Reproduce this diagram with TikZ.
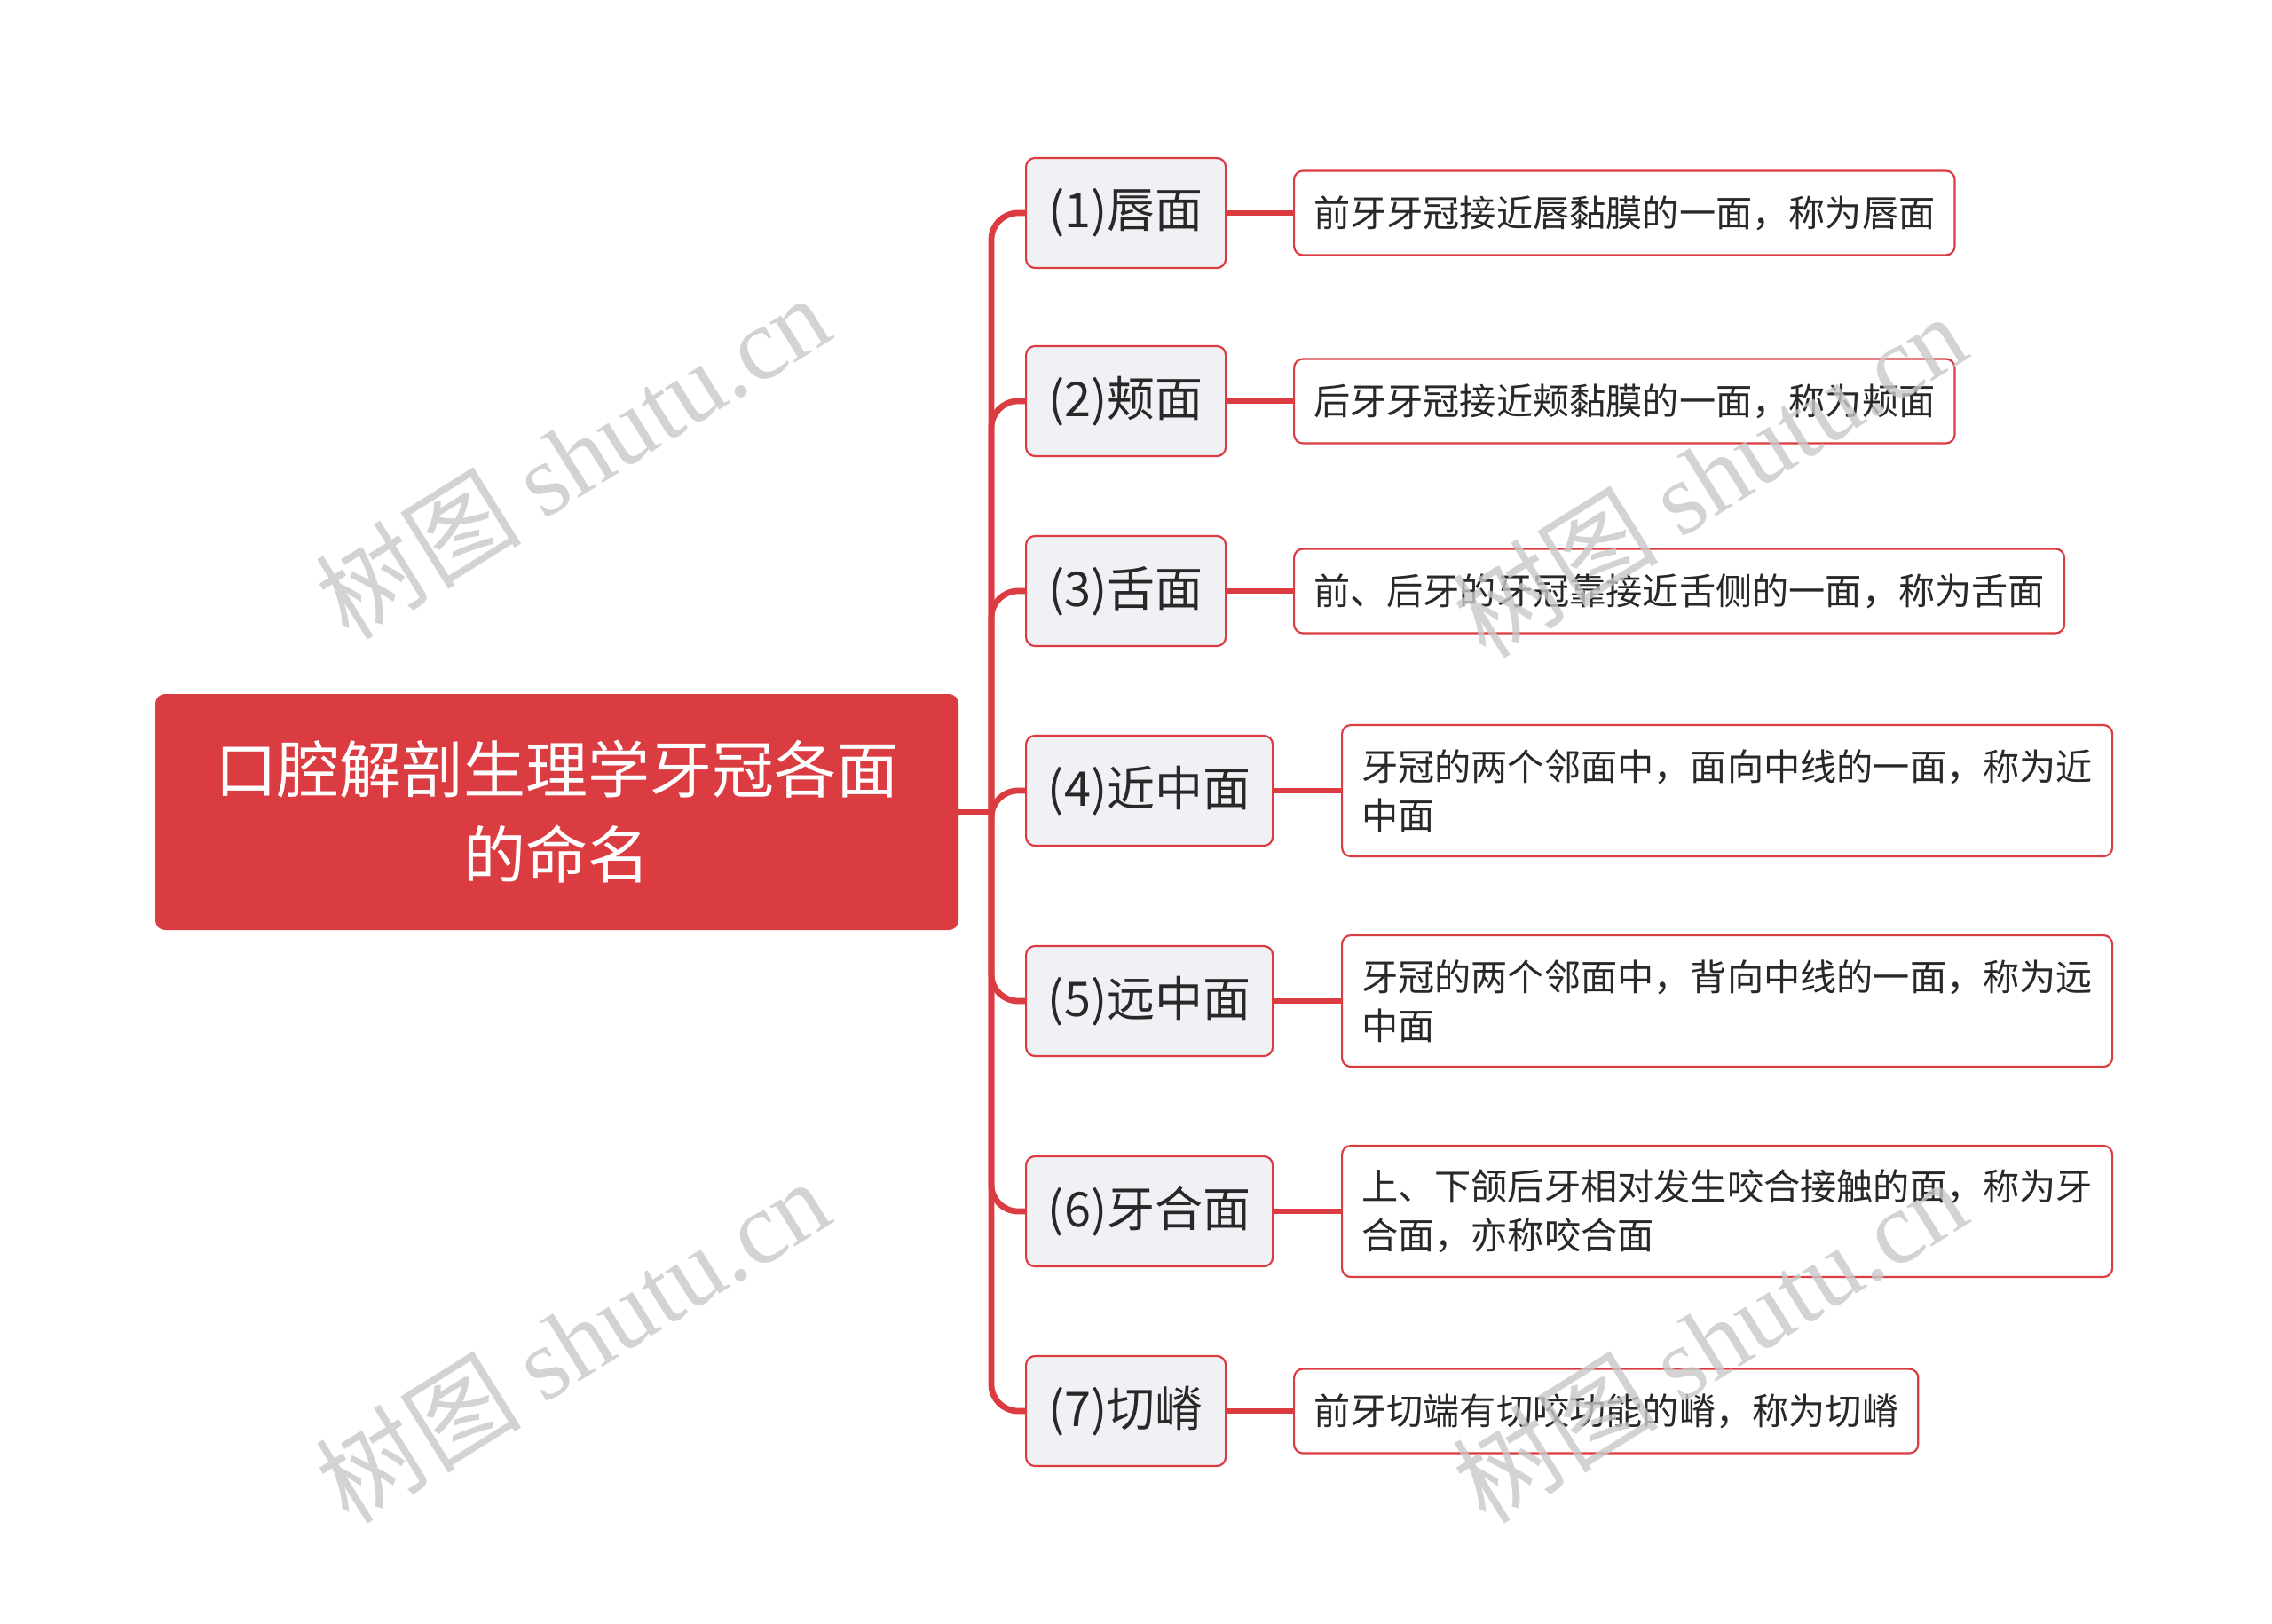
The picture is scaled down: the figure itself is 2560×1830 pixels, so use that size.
\documentclass[tikz,border=0pt]{standalone}
\usepackage{fontspec}
\setmainfont{Noto Sans CJK SC}
\newfontfamily\wmfont{Liberation Serif}
\definecolor{mred}{RGB}{218,60,66}
\definecolor{lvfill}{RGB}{239,241,244}
\definecolor{txt}{RGB}{40,40,40}
\definecolor{wm}{RGB}{200,200,200}
\begin{document}
\begin{tikzpicture}[x=0.5pt,y=-0.5pt,
  rootbox/.style={draw=mred,fill=mred,rounded corners=5pt,line width=1pt,text=white,
     minimum width=451.5pt,minimum height=132pt,align=center,
     font=\fontsize{35}{48}\selectfont},
  lvbox/.style={draw=mred,fill=lvfill,rounded corners=5pt,line width=1.1pt,text=txt,
     minimum height=62pt,anchor=west,inner xsep=0pt,font=\fontsize{27}{32}\selectfont},
  lvshort/.style={lvbox,minimum width=112.5pt},
  lvlong/.style={lvbox,minimum width=139pt},
  descbox/.style={draw=mred,fill=white,rounded corners=5pt,line width=1.1pt,text=txt,
     anchor=west,inner xsep=11pt,align=left,minimum height=47.5pt,
     font=\fontsize{20.6}{27.5}\selectfont},
  desctwo/.style={descbox,minimum height=74pt},
  link/.style={draw=mred,line width=3.4pt},
  wmark/.style={text=wm,rotate=32,opacity=0.8,font=\fontsize{58}{60}\selectfont}]
\useasboundingbox (0,0) rectangle (2560,1830);

\node[rootbox] (root) at (627.5,915) {口腔解剖生理学牙冠各面\\的命名};
\coordinate (j) at (1117,915);

\node[lvshort] (c1) at (1155,240) {(1)唇面};
\node[lvshort] (c2) at (1155,452) {(2)颊面};
\node[lvshort] (c3) at (1155,666) {(3)舌面};
\node[lvlong]  (c4) at (1155,891) {(4)近中面};
\node[lvlong]  (c5) at (1155,1128) {(5)远中面};
\node[lvlong]  (c6) at (1155,1365) {(6)牙合面};
\node[lvshort] (c7) at (1155,1590) {(7)切嵴};

\node[descbox] (d1) at (1457,240) {前牙牙冠接近唇黏膜的一面，称为唇面};
\node[descbox] (d2) at (1457,452) {后牙牙冠接近颊黏膜的一面，称为颊面};
\node[descbox] (d3) at (1457,666) {前、后牙的牙冠靠接近舌侧的一面，称为舌面};
\node[desctwo] (d4) at (1511,891) {牙冠的两个邻面中，面向中线的一面，称为近\\中面};
\node[desctwo] (d5) at (1511,1128) {牙冠的两个邻面中，背向中线的一面，称为远\\中面};
\node[desctwo] (d6) at (1511,1365) {上、下颌后牙相对发生咬合接触的面，称为牙\\合面，亦称咬合面};
\node[descbox] (d7) at (1457,1590) {前牙切端有切咬功能的嵴，称为切嵴};

\draw[link] (root.east) -- (j);
\foreach \i in {1,...,7}{
  \draw[link,rounded corners=15pt] (j) |- (c\i.west);
  \draw[link] (c\i.east) -- (d\i.west);
}

\node[wmark] (w1) at (645,514) {树图 {\wmfont shutu.cn}};
\node[wmark] (w2) at (645,1510) {树图 {\wmfont shutu.cn}};
\node[wmark] (w3) at (1926,535) {树图 {\wmfont shutu.cn}};
\node[wmark] (w4) at (1926,1510) {树图 {\wmfont shutu.cn}};
\end{tikzpicture}
\end{document}
